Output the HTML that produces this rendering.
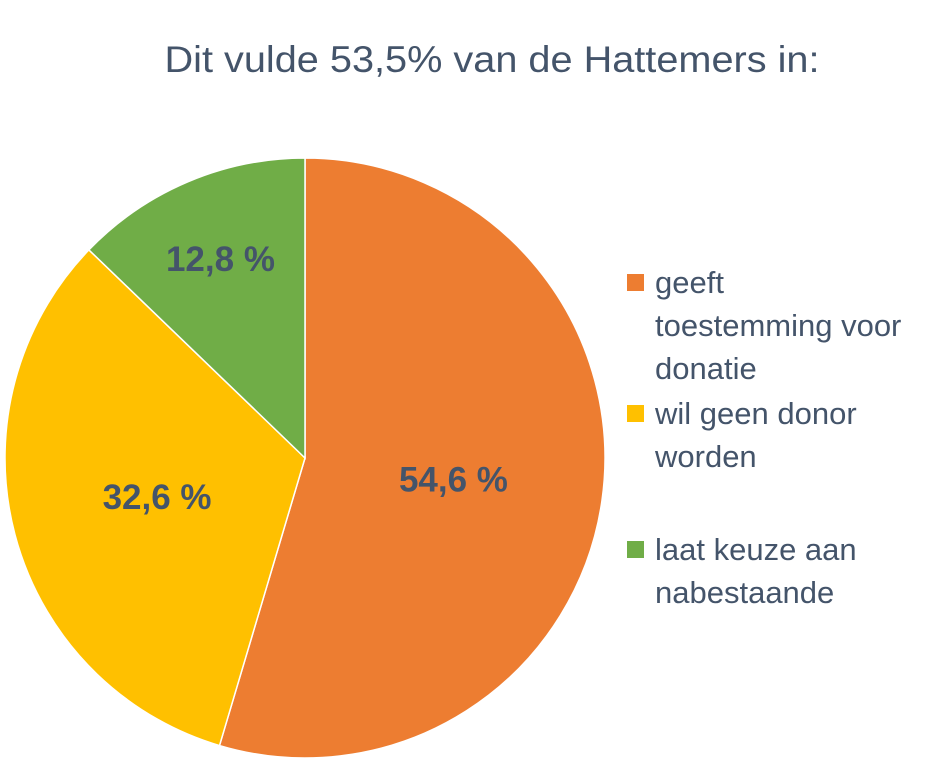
<!DOCTYPE html>
<html><head><meta charset="utf-8"><style>
body{margin:0;background:#fff;width:929px;height:776px;overflow:hidden;font-family:"Liberation Sans",sans-serif;}
svg{display:block}
</style></head><body>
<svg width="929" height="776">
<text x="492" y="72" text-anchor="middle" font-size="37" textLength="655" lengthAdjust="spacingAndGlyphs" fill="#44546a">Dit vulde 53,5% van de Hattemers in:</text>
<g id="slices"></g>
<g id="labels"></g>
<g id="legend"></g>
</svg>
<script>
const categories=["geeft toestemming voor donatie","wil geen donor worden","laat keuze aan nabestaande"];
const values=[54.6,32.6,12.8];
const valueLabels=["54,6 %","32,6 %","12,8 %"];
const colors=["#ed7d31","#ffc000","#70ad47"];
const labelRadius=[0.5,0.51,0.72];
const legendLines=[["geeft","toestemming voor","donatie"],["wil geen donor","worden"],["laat keuze aan","nabestaande"]];
const ns="http://www.w3.org/2000/svg";
const cx=305,cy=458,r=300;
const total=values.reduce((a,b)=>a+b,0);
const sg=document.getElementById('slices'),lg=document.getElementById('labels'),leg=document.getElementById('legend');
function pt(a,rr){return [cx+rr*Math.sin(a),cy-rr*Math.cos(a)];}
let a0=0;
values.forEach((v,i)=>{
 const a1=a0+v/total*2*Math.PI;
 const p0=pt(a0,r),p1=pt(a1,r);
 const p=document.createElementNS(ns,'path');
 p.setAttribute('d',`M${cx},${cy}L${p0[0]},${p0[1]}A${r},${r} 0 ${a1-a0>Math.PI?1:0} 1 ${p1[0]},${p1[1]}Z`);
 p.setAttribute('fill',colors[i]);p.setAttribute('stroke','#fff');p.setAttribute('stroke-width','1.5');
 
 
 sg.appendChild(p);
 const m=(a0+a1)/2,lp=pt(m,r*labelRadius[i]);
 const t=document.createElementNS(ns,'text');
 t.setAttribute('x',lp[0]);t.setAttribute('y',lp[1]+12);t.setAttribute('text-anchor','middle');
 t.setAttribute('font-size','35');t.setAttribute('font-weight','bold');t.setAttribute('fill','#44546a');
 t.textContent=valueLabels[i];
 
 
 lg.appendChild(t);
 a0=a1;
});
const starts=[283,414,550];
legendLines.forEach((lines,i)=>{
 const g=document.createElementNS(ns,'g');
 
 
 const s=document.createElementNS(ns,'rect');
 s.setAttribute('x',627);s.setAttribute('y',starts[i]-9);s.setAttribute('width',17);s.setAttribute('height',17);s.setAttribute('fill',colors[i]);
 g.appendChild(s);
 lines.forEach((ln,j)=>{
  const t=document.createElementNS(ns,'text');
  t.setAttribute('x',655);t.setAttribute('y',starts[i]+10+j*43);t.setAttribute('font-size','31');t.setAttribute('fill','#44546a');
  t.textContent=ln;g.appendChild(t);
 });
 leg.appendChild(g);
});
</script>
</body></html>
